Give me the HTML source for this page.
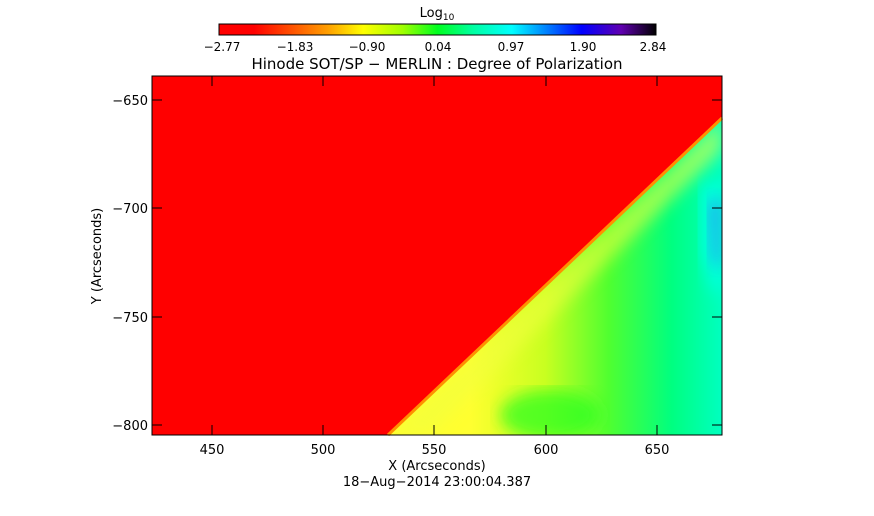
<!DOCTYPE html>
<html><head><style>
body{margin:0;background:#fff;width:874px;height:512px;overflow:hidden;font-family:"DejaVu Sans","Liberation Sans",sans-serif}
</style></head><body>
<svg width="874" height="512" xmlns="http://www.w3.org/2000/svg" font-family="DejaVu Sans, Liberation Sans, sans-serif" font-size="13">
<defs>
<linearGradient id="cb" x1="0" x2="1">
<stop offset="0" stop-color="#ff0000"/><stop offset="0.08" stop-color="#ff0000"/>
<stop offset="0.25" stop-color="#ffa000"/><stop offset="0.33" stop-color="#ffff00"/>
<stop offset="0.42" stop-color="#a0ff00"/><stop offset="0.5" stop-color="#00ff20"/>
<stop offset="0.58" stop-color="#00ffa0"/><stop offset="0.67" stop-color="#00ffff"/>
<stop offset="0.75" stop-color="#0080ff"/><stop offset="0.83" stop-color="#0000ff"/>
<stop offset="0.92" stop-color="#6000b0"/><stop offset="1" stop-color="#000000"/>
</linearGradient>
<linearGradient id="gr" gradientUnits="userSpaceOnUse" x1="470" y1="300" x2="722" y2="300">
<stop offset="0" stop-color="#ffff30"/><stop offset="0.3" stop-color="#c8ff20"/>
<stop offset="0.55" stop-color="#50ff30"/><stop offset="0.8" stop-color="#00ff80"/>
<stop offset="1" stop-color="#00ffc0"/>
</linearGradient>
<filter id="bl"><feGaussianBlur stdDeviation="8"/></filter>
<clipPath id="cp"><polygon points="388,435 722,118 722,435"/></clipPath>
</defs>
<text x="437" y="17" text-anchor="middle">Log<tspan font-size="9" dy="3">10</tspan></text>
<rect x="219" y="24" width="437" height="11" fill="url(#cb)" stroke="#000" stroke-width="1"/>
<g text-anchor="middle" font-size="12">
<text x="222" y="51">−2.77</text><text x="295" y="51">−1.83</text><text x="367" y="51">−0.90</text>
<text x="438" y="51">0.04</text><text x="511" y="51">0.97</text><text x="583" y="51">1.90</text><text x="653" y="51">2.84</text>
</g>
<text x="437" y="69" text-anchor="middle" font-size="15">Hinode SOT/SP − MERLIN : Degree of Polarization</text>
<rect x="152" y="76" width="570" height="359" fill="#ff0000"/>
<g clip-path="url(#cp)">
<polygon points="388,435 722,118 722,435" fill="url(#gr)"/>
<polygon points="388,435 722,118 722,150 430,435" fill="#f0ff40" opacity="0.6" filter="url(#bl)"/>
<ellipse cx="550" cy="415" rx="50" ry="25" fill="#20ff20" opacity="0.7" filter="url(#bl)"/>
<polygon points="700,185 722,180 722,295 712,290 700,250" fill="#00ffff" opacity="0.6" filter="url(#bl)"/>
<polygon points="708,205 722,195 722,270 712,260" fill="#4060ff" opacity="0.5" filter="url(#bl)"/>
</g>
<line x1="388" y1="435" x2="722" y2="118" stroke="#ff9000" stroke-width="3"/>
<rect x="152" y="76" width="570" height="359" fill="none" stroke="#000"/>
<g stroke="#000">
<line x1="212" y1="435" x2="212" y2="425"/><line x1="323" y1="435" x2="323" y2="425"/><line x1="434" y1="435" x2="434" y2="425"/><line x1="546" y1="435" x2="546" y2="425"/><line x1="657" y1="435" x2="657" y2="425"/>
<line x1="212" y1="76" x2="212" y2="86"/><line x1="323" y1="76" x2="323" y2="86"/><line x1="434" y1="76" x2="434" y2="86"/><line x1="546" y1="76" x2="546" y2="86"/><line x1="657" y1="76" x2="657" y2="86"/>
<line x1="152" y1="100" x2="162" y2="100"/><line x1="152" y1="208" x2="162" y2="208"/><line x1="152" y1="317" x2="162" y2="317"/><line x1="152" y1="425" x2="162" y2="425"/>
<line x1="722" y1="100" x2="712" y2="100"/><line x1="722" y1="208" x2="712" y2="208"/><line x1="722" y1="317" x2="712" y2="317"/><line x1="722" y1="425" x2="712" y2="425"/>
</g>
<g text-anchor="middle" font-size="13">
<text x="212" y="454">450</text><text x="323" y="454">500</text><text x="434" y="454">550</text><text x="546" y="454">600</text><text x="657" y="454">650</text>
<text x="437" y="470">X (Arcseconds)</text>
<text x="437" y="486">18−Aug−2014 23:00:04.387</text>
</g>
<g text-anchor="end" font-size="13">
<text x="148" y="105">−650</text><text x="148" y="213">−700</text><text x="148" y="322">−750</text><text x="148" y="430">−800</text>
</g>
<text transform="translate(101,256) rotate(-90)" text-anchor="middle" font-size="13">Y (Arcseconds)</text>
</svg>
</body></html>
